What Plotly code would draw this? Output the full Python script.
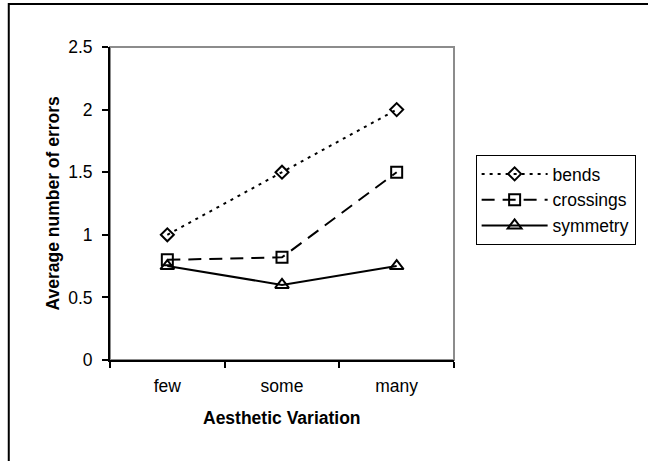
import plotly.graph_objects as go

categories = ["few", "some", "many"]
bends = [1.0, 1.5, 2.0]
crossings = [0.8, 0.82, 1.5]
symmetry = [0.75, 0.6, 0.75]
y_ticks = [0, 0.5, 1, 1.5, 2, 2.5]
y_ticklabels = ["0", "0.5", "1", "1.5", "2", "2.5"]

FONT = "Liberation Sans, Arial, sans-serif"
FS = 17.5

fig = go.Figure()
series = [
    ("bends", bends, "3px,5px", "diamond-open", 10),
    ("crossings", crossings, "13px,8px", "square-open", 11),
    ("symmetry", symmetry, "solid", "triangle-up-open", 12),
]
for name, vals, dash, sym, ms in series:
    fig.add_trace(go.Scatter(
        x=categories, y=vals, name=name, mode="lines+markers",
        line=dict(color="black", width=2, dash=dash),
        marker=dict(symbol=sym, size=ms, color="black", line=dict(color="black", width=2)),
    ))

fig.update_layout(
    width=648, height=461,
    margin=dict(l=110, r=188, t=47, b=101),
    paper_bgcolor="white", plot_bgcolor="white",
    font=dict(family=FONT, size=FS, color="black"),
    showlegend=True,
    legend=dict(
        x=(482 - 110) / 350, y=(360 - 155) / 313, xanchor="left", yanchor="top",
        bordercolor="black", borderwidth=1, bgcolor="white",
        font=dict(family=FONT, size=FS, color="black"),
        itemwidth=66,
    ),
    xaxis=dict(
        type="category", range=[-0.5, 2.5],
        showline=True, linecolor="black", linewidth=2,
        ticks="outside", tickson="boundaries", ticklen=6, tickcolor="black", tickwidth=1.5,
        showgrid=False, zeroline=False,
        tickfont=dict(family=FONT, size=FS, color="black"),
        ticklabelstandoff=9,
    ),
    yaxis=dict(
        range=[0, 2.5], tickvals=y_ticks, ticktext=y_ticklabels,
        showline=True, linecolor="black", linewidth=2,
        ticks="outside", ticklen=6, tickcolor="black", tickwidth=1.5,
        showgrid=False, zeroline=False,
        tickfont=dict(family=FONT, size=FS, color="black"),
        ticklabelstandoff=6,
    ),
    annotations=[
        dict(text="<b>Aesthetic Variation</b>", xref="paper", yref="paper",
             x=0.5, y=(360 - 418) / 313, xanchor="center", yanchor="middle",
             showarrow=False, font=dict(family=FONT, size=FS, color="black")),
        dict(text="<b>Average number of errors</b>", xref="paper", yref="paper",
             x=(51 - 110) / 350, y=0.5, xanchor="center", yanchor="middle", textangle=-90,
             showarrow=False, font=dict(family=FONT, size=FS, color="black")),
    ],
    shapes=[
        dict(type="rect", xref="paper", yref="paper", x0=0, x1=1, y0=0, y1=1,
             line=dict(color="#8c8c8c", width=2), layer="below"),
        dict(type="rect", xref="paper", yref="paper", x0=(7 - 110) / 350, x1=1.6,
             y0=-0.6, y1=(360 - 4) / 313,
             line=dict(color="black", width=2), layer="below"),
    ],
)

fig.write_html("out.html", config={"displayModeBar": False},
               post_script="document.body.style.margin='0';")
